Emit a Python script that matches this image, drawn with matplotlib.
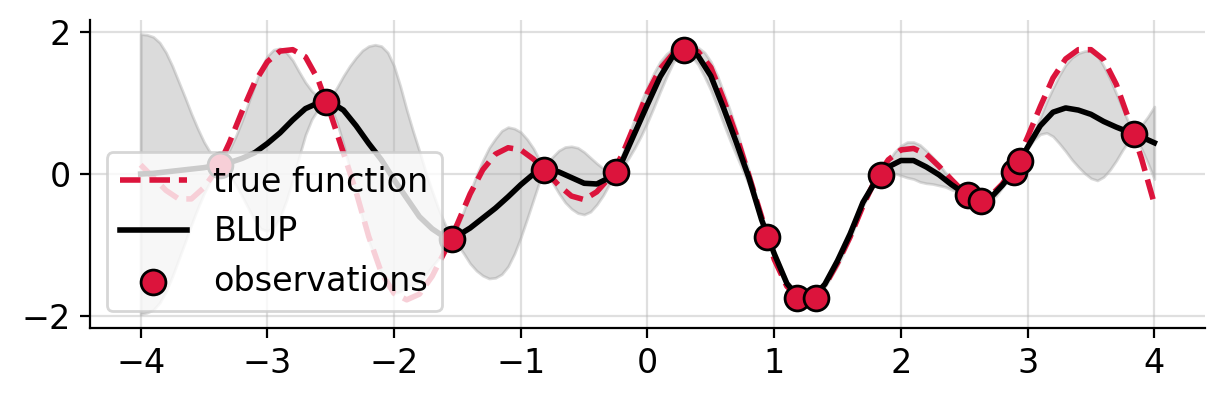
import matplotlib
matplotlib.use('Agg')
import matplotlib.pyplot as plt
import numpy as np

# sampling grid of the curves, step 0.1 from -4 to 4
x_grid = np.linspace(-4, 4, 81)

true_f = [0.13, -0.05, -0.23, -0.35, -0.35, -0.19, 0.06, 0.44, 0.88, 1.29,
          1.58, 1.73, 1.75, 1.65, 1.33, 0.84, 0.30, -0.25, -0.88, -1.39,
          -1.68, -1.77, -1.69, -1.44, -1.09, -0.70, -0.28, 0.06, 0.28, 0.37,
          0.34, 0.21, 0.03, -0.16, -0.31, -0.36, -0.25, -0.05, 0.27, 0.70,
          1.14, 1.48, 1.69, 1.77, 1.72, 1.50, 1.05, 0.55, -0.02, -0.60,
          -1.20, -1.58, -1.75, -1.74, -1.57, -1.25, -0.88, -0.45, -0.07, 0.20,
          0.34, 0.36, 0.28, 0.11, -0.08, -0.26, -0.36, -0.32, -0.14, 0.12,
          0.52, 0.95, 1.35, 1.62, 1.75, 1.75, 1.61, 1.26, 0.76, 0.21,
          -0.42]

blup = [0.00, 0.01, 0.03, 0.05, 0.07, 0.09, 0.12, 0.16, 0.22, 0.30,
        0.43, 0.58, 0.76, 0.92, 1.00, 1.01, 0.90, 0.68, 0.43, 0.20,
        -0.08, -0.34, -0.60, -0.77, -0.89, -0.87, -0.76, -0.62, -0.48, -0.32,
        -0.15, 0.00, 0.07, 0.03, -0.05, -0.13, -0.14, -0.05, 0.18, 0.58,
        0.98, 1.37, 1.66, 1.75, 1.66, 1.38, 0.93, 0.45, -0.05, -0.64,
        -1.12, -1.54, -1.75, -1.75, -1.55, -1.22, -0.84, -0.40, -0.10, 0.10,
        0.19, 0.19, 0.10, -0.01, -0.15, -0.27, -0.36, -0.35, -0.16, 0.06,
        0.38, 0.68, 0.87, 0.93, 0.90, 0.84, 0.74, 0.66, 0.59, 0.52,
        0.44]

# shaded band: x positions with its upper and lower edge
band_x = [-4.00, -3.95, -3.90, -3.85, -3.80, -3.75, -3.70, -3.65, -3.60, -3.55,
          -3.50, -3.45, -3.40, -3.37, -3.33, -3.30, -3.25, -3.20, -3.15, -3.10,
          -3.05, -3.00, -2.95, -2.90, -2.85, -2.80, -2.75, -2.70, -2.65, -2.60,
          -2.57, -2.54, -2.50, -2.45, -2.40, -2.35, -2.30, -2.25, -2.20, -2.15,
          -2.10, -2.05, -2.00, -1.95, -1.90, -1.85, -1.80, -1.75, -1.70, -1.65,
          -1.60, -1.57, -1.54, -1.50, -1.45, -1.40, -1.35, -1.30, -1.25, -1.20,
          -1.15, -1.10, -1.05, -1.00, -0.95, -0.90, -0.85, -0.82, -0.80, -0.75,
          -0.70, -0.65, -0.60, -0.55, -0.50, -0.45, -0.40, -0.35, -0.30, -0.25,
          -0.20, -0.15, -0.10, -0.05, 0.00, 0.05, 0.10, 0.15, 0.20, 0.25,
          0.29, 0.35, 0.40, 0.45, 0.50, 0.55, 0.60, 0.65, 0.70, 0.75,
          0.80, 0.85, 0.90, 0.94, 1.00, 1.05, 1.10, 1.15, 1.18, 1.25,
          1.33, 1.40, 1.50, 1.60, 1.70, 1.80, 1.84, 1.90, 1.95, 2.00,
          2.05, 2.10, 2.15, 2.20, 2.25, 2.30, 2.35, 2.40, 2.45, 2.50,
          2.53, 2.58, 2.63, 2.70, 2.75, 2.80, 2.85, 2.89, 2.94, 2.98,
          3.00, 3.05, 3.10, 3.15, 3.20, 3.25, 3.30, 3.35, 3.40, 3.45,
          3.50, 3.55, 3.60, 3.65, 3.70, 3.75, 3.80, 3.84, 3.90, 3.95,
          4.00]
band_hi = [1.97, 1.96, 1.93, 1.85, 1.71, 1.52, 1.30, 1.08, 0.85, 0.64,
           0.45, 0.30, 0.19, 0.13, 0.225, 0.34, 0.53, 0.75, 1.00, 1.25,
           1.49, 1.66, 1.75, 1.77, 1.71, 1.60, 1.44, 1.29, 1.17, 1.09,
           1.045, 1.01, 1.08, 1.22, 1.38, 1.52, 1.64, 1.74, 1.80, 1.82,
           1.80, 1.71, 1.52, 1.23, 0.90, 0.60, 0.32, 0.02, -0.24, -0.49,
           -0.70, -0.82, -0.92, -0.75, -0.52, -0.26, -0.02, 0.19, 0.37, 0.50,
           0.61, 0.66, 0.64, 0.59, 0.49, 0.36, 0.19, 0.06, 0.12, 0.24,
           0.33, 0.38, 0.39, 0.37, 0.31, 0.23, 0.15, 0.08, 0.04, 0.03,
           0.27, 0.54, 0.79, 1.02, 1.23, 1.42, 1.58, 1.69, 1.76, 1.77,
           1.75, 1.79, 1.78, 1.71, 1.58, 1.39, 1.15, 0.90, 0.63, 0.34,
           0.05, -0.27, -0.61, -0.89, -1.09, -1.30, -1.51, -1.68, -1.74, -1.76,
           -1.74, -1.51, -1.15, -0.77, -0.35, -0.08, -0.01, 0.18, 0.31, 0.40,
           0.45, 0.45, 0.41, 0.33, 0.24, 0.14, 0.02, -0.08, -0.17, -0.26,
           -0.29, -0.34, -0.38, -0.32, -0.23, -0.13, -0.04, 0.03, 0.18, 0.33,
           0.40, 0.60, 0.80, 1.02, 1.21, 1.39, 1.54, 1.64, 1.70, 1.73,
           1.74, 1.67, 1.52, 1.34, 1.13, 0.92, 0.71, 0.56, 0.69, 0.81,
           0.95]
band_lo = [-1.97, -1.95, -1.91, -1.81, -1.65, -1.44, -1.20, -0.96, -0.71, -0.48,
           -0.27, -0.10, 0.05, 0.13, 0.065, -0.02, -0.15, -0.31, -0.48, -0.65,
           -0.77, -0.80, -0.75, -0.61, -0.37, -0.08, 0.24, 0.55, 0.77, 0.91,
           0.965, 1.01, 0.94, 0.72, 0.42, 0.08, -0.28, -0.62, -0.94, -1.18,
           -1.40, -1.59, -1.68, -1.65, -1.58, -1.56, -1.52, -1.42, -1.30, -1.19,
           -1.08, -1.00, -0.92, -0.99, -1.12, -1.26, -1.36, -1.43, -1.47, -1.46,
           -1.41, -1.30, -1.12, -0.89, -0.63, -0.36, -0.09, 0.06, 0.02, -0.12,
           -0.27, -0.40, -0.49, -0.55, -0.57, -0.53, -0.43, -0.30, -0.14, 0.03,
           0.09, 0.22, 0.37, 0.54, 0.73, 0.94, 1.16, 1.37, 1.56, 1.69,
           1.75, 1.65, 1.54, 1.37, 1.18, 0.95, 0.71, 0.48, 0.27, 0.06,
           -0.15, -0.39, -0.67, -0.89, -1.15, -1.38, -1.57, -1.70, -1.74, -1.76,
           -1.74, -1.59, -1.29, -0.91, -0.45, -0.12, -0.01, 0.02, 0.01, -0.02,
           -0.05, -0.07, -0.11, -0.13, -0.14, -0.16, -0.18, -0.22, -0.25, -0.28,
           -0.29, -0.34, -0.38, -0.38, -0.31, -0.19, -0.08, 0.03, 0.18, 0.31,
           0.36, 0.48, 0.56, 0.58, 0.53, 0.43, 0.32, 0.20, 0.10, 0.01,
           -0.06, -0.09, -0.04, 0.06, 0.19, 0.34, 0.47, 0.56, 0.35, 0.15,
           -0.07]

obs_x = [-3.37, -2.54, -1.54, -0.82, -0.25, 0.29, 0.94, 1.18, 1.33, 1.84,
         2.53, 2.63, 2.89, 2.94, 3.84]
obs_y = [0.13, 1.01, -0.92, 0.06, 0.03, 1.75, -0.89, -1.74, -1.74, -0.01,
         -0.29, -0.38, 0.03, 0.18, 0.56]

plt.rcParams['font.size'] = 12

fig, ax = plt.subplots(figsize=(6.12, 2.005), dpi=200)
fig.subplots_adjust(left=0.0735, right=0.9845, top=0.95, bottom=0.182)

ax.fill_between(band_x, band_lo, band_hi, color='gray', alpha=0.28)
ax.plot(x_grid, true_f, '--', color='crimson', lw=2, label='true function')
ax.plot(x_grid, blup, color='black', lw=2, label='BLUP')
ax.scatter(obs_x, obs_y, s=80, color='crimson', edgecolor='black',
           linewidth=1, zorder=3, label='observations')

ax.grid(alpha=0.4)
ax.spines['top'].set_visible(False)
ax.spines['right'].set_visible(False)
ax.legend(loc='lower left')

plt.savefig('out.png', dpi=200)
plt.close('all')
